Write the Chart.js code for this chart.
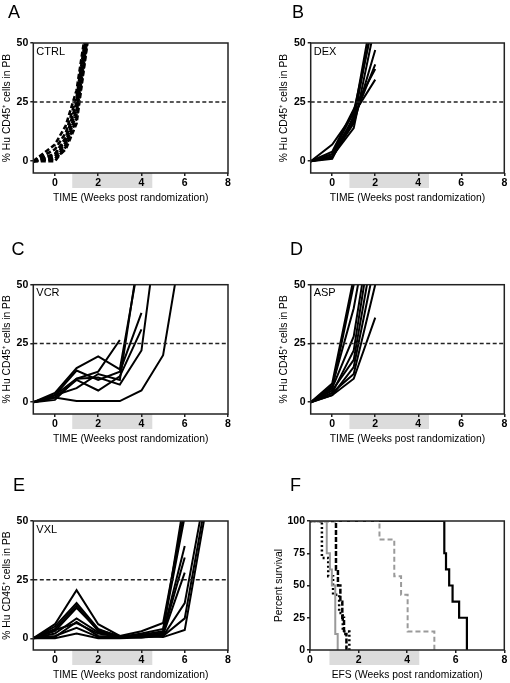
<!DOCTYPE html>
<html>
<head>
<meta charset="utf-8">
<script src="https://cdn.jsdelivr.net/npm/chart.js@4.4.1/dist/chart.umd.min.js"></script>
<style>
    html, body { margin: 0; padding: 0; background: #fff; overflow: hidden; }
    body { width: 510px; height: 683px; position: relative; }
    canvas { position: absolute; }
</style>
</head>
<body>
<canvas id="panelA"></canvas>
<canvas id="panelB"></canvas>
<canvas id="panelC"></canvas>
<canvas id="panelD"></canvas>
<canvas id="panelE"></canvas>
<canvas id="panelF"></canvas>
<script>
// Leukemia engraftment per mouse (% hu CD45+ in PB) + event-free survival

const WEEKS = [-1, 0, 1, 2, 3, 4, 5, 6, 7];
const CTRL_WEEKS = [-1, 0, 0.5, 1, 1.5];
const X_TICKS = [0, 2, 4, 6, 8];
const Y_TICKS = [0, 25, 50];
const SURV_TICKS = [0, 25, 50, 75, 100];
const THRESHOLD = 25;
const TREATMENT = [0.8, 4.5];

// one row per mouse, values at CTRL_WEEKS / WEEKS
const CTRL = [
    [0, 7, 15, 30, 60],
    [0, 5, 12, 27, 58],
    [0, 3, 10, 24, 56],
    [0, 2, 8, 22, 54],
    [0, 1, 7, 20, 52],
    [0, 0, 6, 18, 51],
    [0, 3, 9, 25, 55],
    [0, 1, 5, 16, 50]
];
const DEX = [
    [0, 7, 20, 34.5],
    [0, 4, 22, 39],
    [0, 3, 18, 41],
    [0, 2, 16, 47],
    [0, 2, 14, 58],
    [0, 1.5, 17, 65],
    [0, 1, 19, 70],
    [0, 3, 21, 62]
];
const VCR = [
    [0, 2, 0.5, 0.5, 0.5, 5, 20, 75],
    [0, 3, 10, 13, 26.5],
    [0, 4, 14.5, 19.5, 14, 66],
    [0, 3, 13.5, 9.5, 13, 38],
    [0, 2, 9.5, 5, 11, 31],
    [0, 1, 10, 10.5, 7.5, 22, 92],
    [0, 3, 6, 12, 9.5, 70]
];
const ASP = [
    [0, 8, 53],
    [0, 6, 50],
    [0, 7, 40, 90],
    [0, 6, 28, 85],
    [0, 4, 22, 80],
    [0, 5, 18, 70],
    [0, 3, 15, 60],
    [0, 4, 12, 50],
    [0, 3, 10, 36]
];
const VXL = [
    [0, 6, 20.5, 6, 1, 3, 6.5, 55],
    [0, 5, 15, 4, 0.5, 2, 4, 52],
    [0, 4, 14, 3, 0.5, 1.5, 3, 60],
    [0, 3, 13, 3.5, 1, 1, 2.5, 39.3],
    [0, 2, 8.5, 2.5, 0.5, 0.5, 2, 34.4],
    [0, 3.5, 6.5, 2, 0.5, 0.3, 1.5, 28],
    [0, 1, 4.5, 0.5, 0.5, 0.5, 1, 15, 65],
    [0, 0, 2, 0, 0, 0.3, 1, 8.5, 60],
    [0, 0.5, 7, 1, 0.5, 1, 0.5, 3.5, 56]
];

// Kaplan-Meier: event times (weeks) and percent survival
const KM_CTRL_T = [0, 0.49, 0.75, 0.95, 1.2, 1.35, 1.62];
const KM_CTRL_S = [100, 71.4, 57.1, 42.9, 28.6, 14.3, 0];
const KM_DEX_T = [0, 0.69, 0.82, 0.9, 1.04, 1.14];
const KM_DEX_S = [100, 75, 62.5, 50, 12.5, 0];
const KM_ASP_T = [0, 1.07, 1.15, 1.25, 1.33, 1.4, 1.5];
const KM_ASP_S = [100, 62.5, 50, 37.5, 25, 12.5, 0];
const KM_VCR_T = [0, 2.86, 3.47, 3.75, 4.02, 5.12];
const KM_VCR_S = [100, 85.7, 57.1, 42.9, 14.3, 0];
const KM_VXL_T = [0, 5.53, 5.6, 5.73, 5.87, 6.14, 6.46];
const KM_VXL_S = [100, 75, 62.5, 50, 37.5, 25, 0];

const FONT = "'Liberation Sans', Arial, sans-serif";
const Y_TITLE = '% Hu CD45\u207A cells in PB';
const X_TITLE = 'TIME (Weeks post randomization)';

// shaded treatment bar under the x axis, frame, panel letter and tag
const panelDeco = {
    id: 'panelDeco',
    beforeDraw(chart, args, opts) {
        const {ctx, chartArea, scales} = chart;
        if (opts.band) {
            const x0 = scales.x.getPixelForValue(opts.band[0]);
            const x1 = scales.x.getPixelForValue(opts.band[1]);
            ctx.save();
            ctx.fillStyle = '#dcdcdc';
            ctx.fillRect(x0, chartArea.bottom, x1 - x0, 15);
            ctx.restore();
        }
    },
    afterDraw(chart, args, opts) {
        const {ctx, chartArea} = chart;
        ctx.save();
        ctx.strokeStyle = '#222';
        ctx.lineWidth = 1.5;
        ctx.strokeRect(chartArea.left, chartArea.top, chartArea.width, chartArea.height);
        ctx.fillStyle = '#000';
        ctx.font = '18px ' + FONT;
        ctx.textBaseline = 'alphabetic';
        ctx.fillText(opts.letter, opts.letterX, opts.letterY);
        if (opts.tag) {
            ctx.font = '11px ' + FONT;
            ctx.textBaseline = 'top';
            ctx.fillText(opts.tag, chartArea.left + 3, chartArea.top + 3);
        }
        ctx.restore();
    }
};

function curveSets(weeks, rows, dash) {
    return rows.map(row => ({
        data: row.map((v, j) => ({x: weeks[j], y: v})),
        borderColor: '#000',
        borderWidth: dash ? 2.6 : 2,
        borderDash: dash || [],
        pointRadius: 0,
        tension: 0
    }));
}

function thresholdSet() {
    return {
        data: [{x: -1, y: THRESHOLD}, {x: 8, y: THRESHOLD}],
        borderColor: '#222',
        borderWidth: 1.5,
        borderDash: [4, 2.5],
        pointRadius: 0
    };
}

function kmSet(times, surv, color, dash, width) {
    return {
        data: times.map((t, i) => ({x: t, y: surv[i]})),
        stepped: 'before',
        borderColor: color,
        borderWidth: width,
        borderDash: dash,
        pointRadius: 0
    };
}

function axisGrid() {
    return {display: true, drawOnChartArea: false, drawTicks: true, tickLength: 3, color: '#222', lineWidth: 1.5};
}

function makePanel(id, p) {
    const canvas = document.getElementById(id);
    canvas.width = 255;
    canvas.height = p.height;
    canvas.style.left = p.left + 'px';
    canvas.style.top = p.top + 'px';

    new Chart(canvas.getContext('2d'), {
        type: 'line',
        data: {datasets: p.datasets},
        plugins: [panelDeco],
        options: {
            responsive: false,
            animation: false,
            events: [],
            layout: {padding: {left: p.padLeft, right: p.padRight, top: p.padTop, bottom: 0}},
            scales: {
                x: {
                    type: 'linear',
                    min: p.xMin,
                    max: 8,
                    afterBuildTicks: s => { s.ticks = X_TICKS.map(v => ({value: v})); },
                    afterFit: s => { s.height = 32; },
                    grid: axisGrid(),
                    border: {display: false},
                    ticks: {color: '#000', padding: 2, maxRotation: 0, autoSkip: false,
                        font: {family: FONT, size: 10.5, weight: 'bold', lineHeight: 1}},
                    title: {display: true, text: p.xTitle, color: '#000',
                        font: {family: FONT, size: 10.3, lineHeight: 1.2}, padding: {top: 0, bottom: 1}}
                },
                y: {
                    type: 'linear',
                    min: p.yMin,
                    max: p.yMax,
                    afterBuildTicks: s => { s.ticks = p.yTicks.map(v => ({value: v})); },
                    afterFit: s => { s.width = p.yAxisWidth; },
                    grid: axisGrid(),
                    border: {display: false},
                    ticks: {color: '#000', padding: 2,
                        font: {family: FONT, size: 10.5, weight: 'bold', lineHeight: 1}},
                    title: {display: true, text: p.yTitle, color: '#000',
                        font: {family: FONT, size: 10.3, lineHeight: 1.2}, padding: {top: 0.5, bottom: 0}}
                }
            },
            plugins: {
                legend: {display: false},
                tooltip: {enabled: false},
                panelDeco: {letter: p.letter, letterX: p.letterX, letterY: p.letterY, tag: p.tag, band: TREATMENT}
            }
        }
    });
}

const growthAxes = {xMin: -1, yMin: -5, yMax: 50, yTicks: Y_TICKS, xTitle: X_TITLE, yTitle: Y_TITLE};
const leftCol = {left: 0, padLeft: 0, yAxisWidth: 33.3, padRight: 27};
const rightCol = {left: 255, padLeft: 22.7, yAxisWidth: 33, padRight: 5.7};

makePanel('panelA', Object.assign({}, growthAxes, leftCol, {
    top: 0, height: 205, padTop: 43, letter: 'A', letterX: 8, letterY: 18.3, tag: 'CTRL',
    datasets: [thresholdSet()].concat(curveSets(CTRL_WEEKS, CTRL, [5, 2.5]))
}));
makePanel('panelB', Object.assign({}, growthAxes, rightCol, {
    top: 0, height: 205, padTop: 43, letter: 'B', letterX: 37, letterY: 17.5, tag: 'DEX',
    datasets: [thresholdSet()].concat(curveSets(WEEKS, DEX))
}));
makePanel('panelC', Object.assign({}, growthAxes, leftCol, {
    top: 242, height: 204, padTop: 42.7, letter: 'C', letterX: 11.5, letterY: 12.7, tag: 'VCR',
    datasets: [thresholdSet()].concat(curveSets(WEEKS, VCR))
}));
makePanel('panelD', Object.assign({}, growthAxes, rightCol, {
    top: 242, height: 204, padTop: 42.7, letter: 'D', letterX: 35, letterY: 12.7, tag: 'ASP',
    datasets: [thresholdSet()].concat(curveSets(WEEKS, ASP))
}));
makePanel('panelE', Object.assign({}, growthAxes, leftCol, {
    top: 478, height: 204, padTop: 43, letter: 'E', letterX: 13, letterY: 13, tag: 'VXL',
    datasets: [thresholdSet()].concat(curveSets(WEEKS, VXL))
}));
makePanel('panelF', {
    left: 255, top: 478, height: 204, padTop: 43, padLeft: 17, yAxisWidth: 38, padRight: 5.7,
    xMin: 0, yMin: 0, yMax: 100, yTicks: SURV_TICKS,
    xTitle: 'EFS (Weeks post randomization)', yTitle: 'Percent survival',
    letter: 'F', letterX: 35, letterY: 13, tag: '',
    datasets: [
        kmSet(KM_DEX_T, KM_DEX_S, '#9a9a9a', [], 2),
        kmSet(KM_VCR_T, KM_VCR_S, '#9a9a9a', [5, 3], 2),
        kmSet(KM_CTRL_T, KM_CTRL_S, '#000', [2, 2.5], 2.5),
        kmSet(KM_ASP_T, KM_ASP_S, '#000', [5, 2], 2.5),
        kmSet(KM_VXL_T, KM_VXL_S, '#000', [], 2.2)
    ]
});
</script>
</body>
</html>
